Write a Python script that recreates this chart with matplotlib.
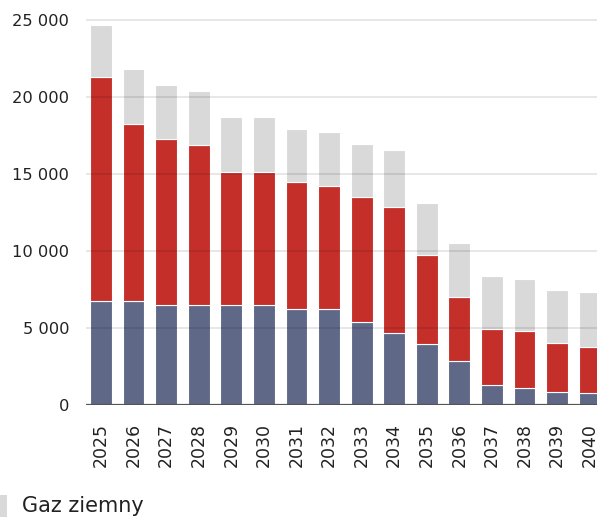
import numpy as np
import matplotlib.pyplot as plt
from matplotlib.patches import Rectangle
from matplotlib.ticker import FuncFormatter

years = [str(y) for y in range(2025, 2041)]

# segment values (bottom -> top)
seg_blue = [6730, 6750, 6470, 6470, 6510, 6510, 6250, 6230,
            5410, 4650, 3940, 2840, 1320, 1080, 840, 780]
seg_red = [14590, 11500, 10820, 10410, 8600, 8600, 8230, 7970,
           8120, 8230, 5800, 4150, 3620, 3700, 3190, 3010]
gaz_ziemny = [3380, 3550, 3510, 3520, 3590, 3590, 3420, 3500,
              3420, 3670, 3360, 3510, 3440, 3400, 3440, 3550]

yticks = [0, 5000, 10000, 15000, 20000, 25000]

BLUE = '#5f6886'
RED = '#c42f2a'
GRAY = '#d9d9d9'

fig = plt.figure(figsize=(5.97, 5.17), dpi=100)
ax = fig.add_axes([86/597, 112/517, 520/597, 392.7/517])

x = np.arange(len(years))
w = 0.67
blue = np.array(seg_blue)
red = np.array(seg_red)
gray = np.array(gaz_ziemny)

ax.bar(x, blue, w, color=BLUE, edgecolor='white', linewidth=0.8, zorder=2)
ax.bar(x, red, w, bottom=blue, color=RED, edgecolor='white', linewidth=0.8, zorder=2)
ax.bar(x, gray, w, bottom=blue + red, color=GRAY, edgecolor='white', linewidth=0.8, zorder=2)

ax.set_xlim(-0.46, 15.5)
ax.set_ylim(0, 25500)
ax.set_yticks(yticks)
ax.yaxis.set_major_formatter(FuncFormatter(lambda v, p: f'{int(v):,}'.replace(',', ' ')))
ax.set_xticks(x)
ax.set_xticklabels(years, rotation=90)

for t in yticks[1:]:
    ax.axhline(t, color='black', alpha=0.1, linewidth=1.3, zorder=3)
ax.axhline(0, color='#555555', linewidth=1.6, zorder=4)

for s in ax.spines.values():
    s.set_visible(False)
ax.tick_params(axis='both', length=0, colors='#222222')
ax.tick_params(axis='y', pad=12, labelsize=11.7)
ax.tick_params(axis='x', pad=13, labelsize=12.5)

# legend (only the first entry is visible in the frame)
fig.patches.append(Rectangle((0, 0), 7/597, 22/517, transform=fig.transFigure,
                             facecolor=GRAY, edgecolor='none'))
fig.text(22/597, 5/517, 'Gaz ziemny', fontsize=15, color='#222222', va='baseline')

fig.savefig('out.png', dpi=100)
